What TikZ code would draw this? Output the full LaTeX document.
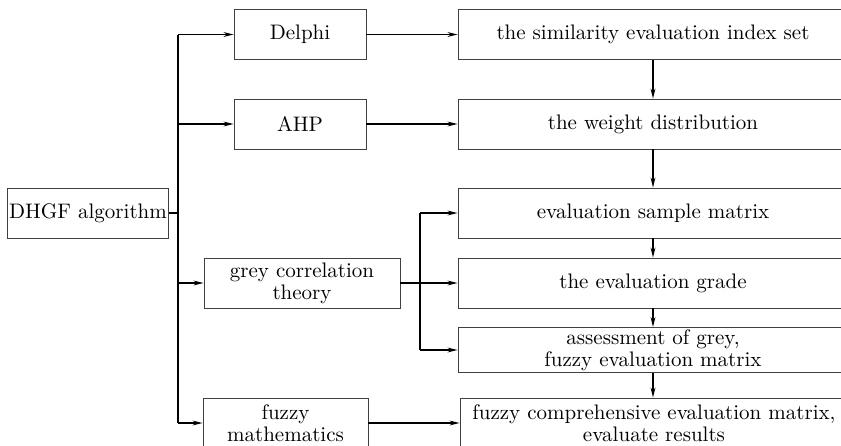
\documentclass[tikz,border=0pt]{standalone}
\usetikzlibrary{arrows.meta,positioning}
\begin{document}
\begin{tikzpicture}[x=0.5pt,y=-0.5pt,
	box/.style={draw=black!75,line width=0.45pt,minimum height=25pt,inner sep=1pt,align=center,font=\fontsize{10.5}{11}\selectfont},
	link/.style={line width=0.55pt,-{Stealth[length=5pt,width=2.4pt]}},
	wire/.style={line width=0.55pt}]
			\useasboundingbox (0,0) rectangle (841,445);
			%Root of the tree
			\node [box,minimum width=80pt] (dhgf) at (88,213) {DHGF algorithm};
			%Methods in the middle column
			\node [box,minimum width=66pt] (delphi) at (300,34.5) {Delphi};
			\node [box,minimum width=66pt] (ahp) at (300,124) {AHP};
			\node [box,minimum width=98pt] (grey) at (302,283) {grey correlation\\theory};
			\node [box,minimum width=82.5pt] (fuzzy) at (285.5,423) {fuzzy\\mathematics};
			%Results in the right column
			\node [box,minimum width=195pt] (indexset) at (653,34.5) {the similarity evaluation index set};
			\node [box,minimum width=195pt] (weight) at (653,124) {the weight distribution};
			\node [box,minimum width=195pt] (sample) at (653,213) {evaluation sample matrix};
			\node [box,minimum width=195pt] (grade) at (653,283) {the evaluation grade};
			\node [box,minimum width=195pt,minimum height=22pt] (assess) at (653,350) {assessment of grey,\\fuzzy evaluation matrix};
			\node [box,minimum width=194pt] (result) at (654,423) {fuzzy comprehensive evaluation matrix,\\evaluate results};
			%Bus on the left
			\coordinate (bus) at (178,213);
			\draw [wire] (dhgf.east) -- (bus);
			\draw [wire] (delphi.west -| bus) -- (fuzzy.west -| bus);
			\draw [link] (delphi.west -| bus) -- (delphi.west);
			\draw [link] (ahp.west -| bus) -- (ahp.west);
			\draw [link] (grey.west -| bus) -- (grey.west);
			\draw [link] (fuzzy.west -| bus) -- (fuzzy.west);
			%Middle to right
			\draw [link] (delphi.east) -- (indexset.west);
			\draw [link] (ahp.east) -- (weight.west);
			\draw [link] (fuzzy.east) -- (result.west);
			%Bus of the grey correlation theory
			\coordinate (gbus) at (420,283);
			\draw [wire] (grey.east) -- (gbus);
			\draw [wire] (sample.west -| gbus) -- (assess.west -| gbus);
			\draw [link] (sample.west -| gbus) -- (sample.west);
			\draw [link] (grade.west -| gbus) -- (grade.west);
			\draw [link] (assess.west -| gbus) -- (assess.west);
			%Chain down the right column
			\draw [link] (indexset) -- (weight);
			\draw [link] (weight) -- (sample);
			\draw [link] (sample) -- (grade);
			\draw [link] (grade) -- (assess);
			\draw [link] (assess) -- (result.north -| assess);
\end{tikzpicture}
\end{document}
